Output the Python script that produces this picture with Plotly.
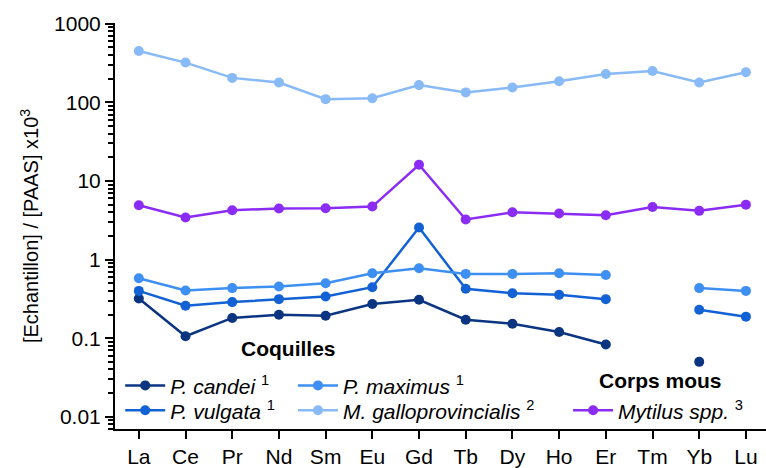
import plotly.graph_objects as go

ELEMENTS = ["La", "Ce", "Pr", "Nd", "Sm", "Eu", "Gd", "Tb", "Dy", "Ho", "Er", "Tm", "Yb", "Lu"]

P_CANDEI = [0.32, 0.106, 0.181, 0.199, 0.193, 0.272, 0.308, 0.172, 0.153, 0.12, 0.083, None, 0.05, None]
P_VULGATA = [0.40, 0.259, 0.288, 0.314, 0.34, 0.446, 2.56, 0.425, 0.374, 0.356, 0.314, None, 0.23, 0.188]
P_MAXIMUS = [0.58, 0.405, 0.434, 0.455, 0.50, 0.67, 0.776, 0.658, 0.658, 0.67, 0.638, None, 0.434, 0.40]
M_GALLO = [450, 321, 205, 179, 110, 113, 166, 134, 155, 186, 230, 251, 179, 242]
MYTILUS = [4.91, 3.43, 4.25, 4.46, 4.5, 4.73, 16.1, 3.24, 4.0, 3.85, 3.67, 4.68, 4.17, 5.0]

Y_TICKS = [0.01, 0.1, 1, 10, 100, 1000]
Y_TICK_TEXT = ["0.01", "0.1", "1", "10", "100", "1000"]

FONT = "Liberation Sans, Arial, sans-serif"

# one legend per entry so rows can be placed like in the original figure
series = [
    ("<i>P. candei</i> <sup>1</sup>", P_CANDEI, "#0B3580", "legend", 0.008, 0.157),
    ("<i>P. vulgata</i> <sup>1</sup>", P_VULGATA, "#1262D6", "legend2", 0.008, 0.0956),
    ("<i>P. maximus</i> <sup>1</sup>", P_MAXIMUS, "#3D8FF2", "legend3", 0.2734, 0.157),
    ("<i>M. galloprovincialis</i> <sup>2</sup>", M_GALLO, "#88BAF7", "legend4", 0.2734, 0.0956),
    ("<i>Mytilus spp.</i> <sup>3</sup>", MYTILUS, "#8A2CF4", "legend5", 0.696, 0.0956),
]

fig = go.Figure()
legends = {}
for name, values, color, legend, lx, ly in series:
    fig.add_trace(
        go.Scatter(
            x=ELEMENTS,
            y=values,
            name=name,
            mode="lines+markers",
            line=dict(color=color, width=2.5),
            marker=dict(color=color, size=10),
            connectgaps=False,
            legend=legend,
        )
    )
    legends[legend] = dict(
        x=lx,
        y=ly,
        xanchor="left",
        yanchor="top",
        bgcolor="rgba(0,0,0,0)",
        font=dict(family=FONT, size=21, color="black"),
        itemwidth=40,
    )

fig.update_layout(
    width=766,
    height=468,
    margin=dict(l=115, r=0, t=23, b=37),
    plot_bgcolor="white",
    paper_bgcolor="white",
    font=dict(family=FONT, size=21, color="black"),
    showlegend=True,
    **legends,
    xaxis=dict(
        type="category",
        range=[-0.51, 13.43],
        showline=True,
        linecolor="black",
        linewidth=2,
        ticks="outside",
        ticklen=8,
        tickwidth=2,
        tickcolor="black",
        showgrid=False,
        zeroline=False,
        tickfont=dict(size=21),
    ),
    yaxis=dict(
        type="log",
        range=[-2.155, 3.01],
        showline=True,
        linecolor="black",
        linewidth=2,
        ticks="outside",
        ticklen=8,
        tickwidth=2,
        tickcolor="black",
        tickvals=Y_TICKS,
        ticktext=Y_TICK_TEXT,
        showgrid=False,
        zeroline=False,
        tickfont=dict(size=21),
        minor=dict(
            ticks="outside",
            ticklen=5,
            tickwidth=1.5,
            tickcolor="black",
            dtick="D1",
            showgrid=False,
        ),
        title=dict(text="[Echantillon] / [PAAS] x10<sup>3</sup>", font=dict(size=20), standoff=10),
    ),
)

fig.add_annotation(
    text="<b>Coquilles</b>", x=0.266, y=0.198, xref="paper", yref="paper",
    xanchor="center", yanchor="middle",
    showarrow=False, font=dict(size=21, color="black"),
)
fig.add_annotation(
    text="<b>Corps mous</b>", x=0.838, y=0.12, xref="paper", yref="paper",
    xanchor="center", yanchor="middle",
    showarrow=False, font=dict(size=21, color="black"),
)

fig.write_html(
    "out.html",
    config={"displayModeBar": False},
    post_script="document.body.style.margin='0';",
)
